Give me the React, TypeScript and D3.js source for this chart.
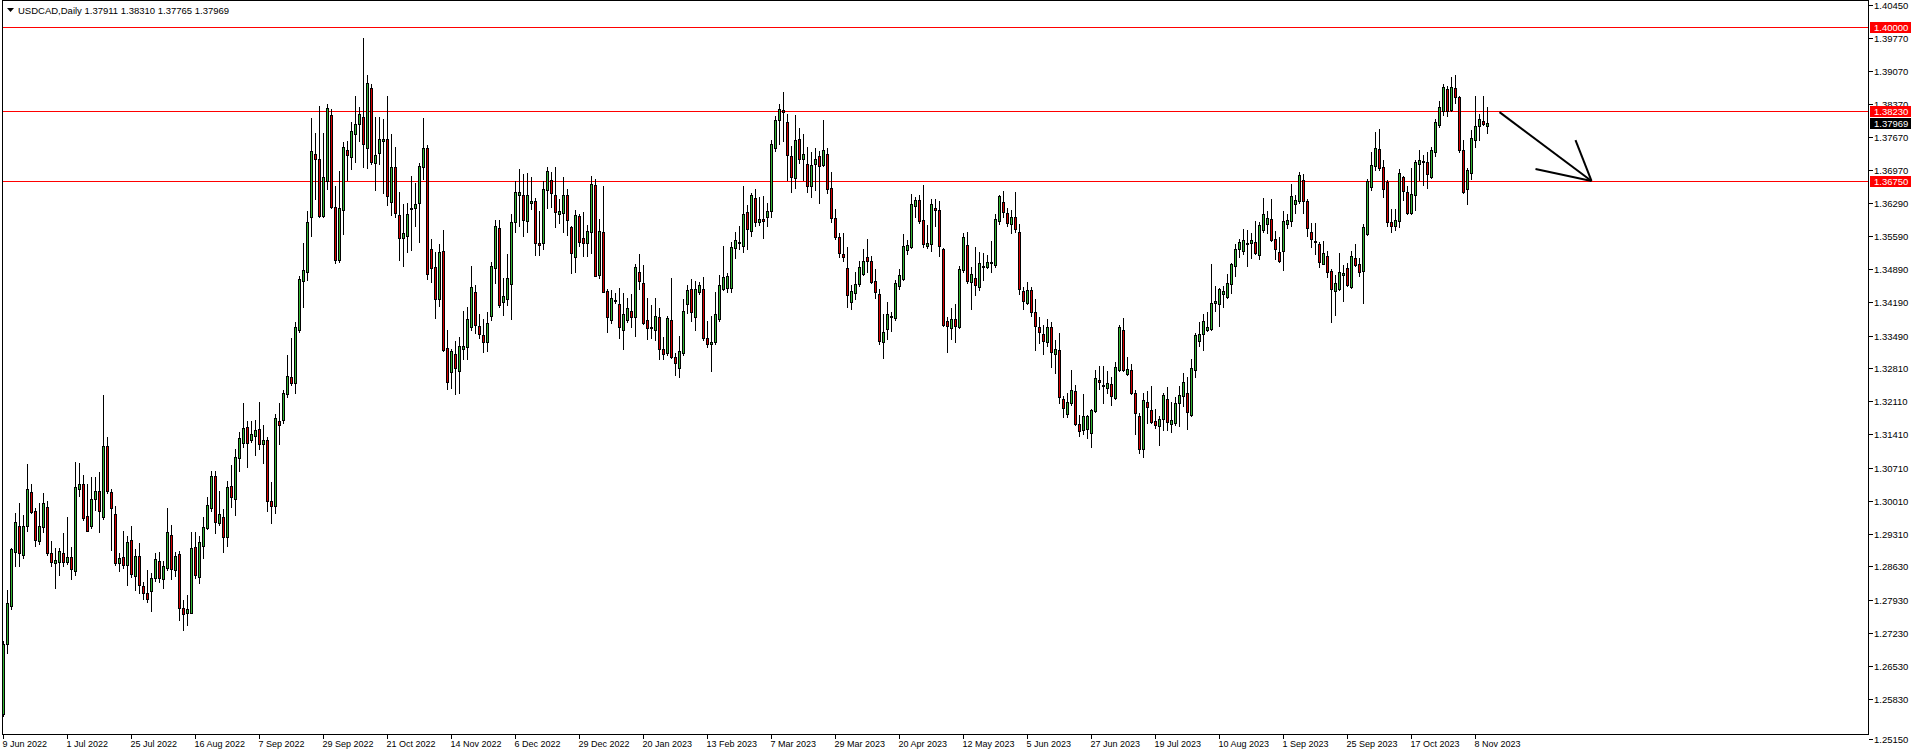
import React from 'react';
import * as d3 from 'd3';

const opens = [
1.2552,1.2699,1.2780,1.2893,1.2948,1.2886,1.2949,1.3019,1.2979,1.2917,
1.2945,1.2988,1.2891,1.2871,1.2873,1.2891,1.2873,1.2882,1.2854,1.3027,
1.3036,1.2969,1.2948,1.3004,1.3022,1.2967,1.3116,1.3020,1.2973,1.2870,
1.2882,1.2867,1.2918,1.2842,1.2884,1.2822,1.2807,1.2812,1.2839,1.2875,
1.2837,1.2860,1.2929,1.2855,1.2889,1.2776,1.2764,1.2764,1.2904,1.2840,
1.2907,1.2943,1.2985,1.3053,1.2955,1.2967,1.2924,1.3032,1.3004,1.3091,
1.3124,1.3156,1.3129,1.3137,1.3152,1.3120,1.3130,1.3000,1.2990,1.3170,
1.3172,1.3226,1.3261,1.3249,1.3360,1.3465,1.3484,1.3598,1.3731,1.3721,
1.3602,1.3674,1.3814,1.3620,1.3508,1.3613,1.3740,1.3726,1.3773,1.3794,
1.3809,1.3744,1.3870,1.3712,1.3733,1.3759,1.3763,1.3631,1.3704,1.3603,
1.3554,1.3558,1.3617,1.3617,1.3628,1.3705,1.3744,1.3531,1.3494,1.3427,
1.3528,1.3323,1.3272,1.3310,1.3274,1.3320,1.3325,1.3367,1.3440,1.3369,
1.3350,1.3335,1.3391,1.3491,1.3575,1.3420,1.3427,1.3457,1.3588,1.3646,
1.3645,1.3590,1.3628,1.3632,1.3544,1.3544,1.3655,1.3677,1.3645,1.3605,
1.3607,1.3645,1.3577,1.3514,1.3601,1.3554,1.3544,1.3568,1.3666,1.3476,
1.3567,1.3443,1.3382,1.3423,1.3415,1.3361,1.3383,1.3401,1.3388,1.3483,
1.3460,1.3382,1.3368,1.3361,1.3389,1.3320,1.3312,1.3382,1.3304,1.3281,
1.3312,1.3415,1.3448,1.3388,1.3441,1.3447,1.3345,1.3331,1.3335,1.3384,
1.3447,1.3450,1.3450,1.3533,1.3547,1.3539,1.3609,1.3570,1.3639,1.3589,
1.3594,1.3599,1.3611,1.3744,1.3803,1.3824,1.3799,1.3727,1.3681,1.3763,
1.3721,1.3710,1.3665,1.3711,1.3728,1.3709,1.3731,1.3660,1.3596,1.3556,
1.3521,1.3491,1.3421,1.3439,1.3458,1.3479,1.3514,1.3506,1.3464,1.3436,
1.3335,1.3363,1.3390,1.3387,1.3453,1.3468,1.3529,1.3535,1.3622,1.3634,
1.3592,1.3537,1.3543,1.3619,1.3613,1.3531,1.3379,1.3365,1.3384,1.3368,
1.3488,1.3540,1.3462,1.3470,1.3452,1.3496,1.3494,1.3502,1.3497,1.3590,
1.3630,1.3607,1.3584,1.3598,1.3567,1.3443,1.3417,1.3445,1.3398,1.3367,
1.3352,1.3336,1.3367,1.3311,1.3318,1.3215,1.3185,1.3207,1.3233,1.3162,
1.3150,1.3153,1.3144,1.3191,1.3256,1.3245,1.3238,1.3247,1.3218,1.3276,
1.3362,1.3268,1.3277,1.3229,1.3180,1.3110,1.3209,1.3192,1.3170,1.3158,
1.3173,1.3216,1.3164,1.3166,1.3207,1.3223,1.3229,1.3182,1.3276,1.3337,
1.3352,1.3360,1.3364,1.3417,1.3415,1.3436,1.3430,1.3457,1.3496,1.3531,
1.3528,1.3544,1.3544,1.3546,1.3519,1.3572,1.3584,1.3594,1.3553,1.3525,
1.3528,1.3584,1.3590,1.3626,1.3632,1.3677,1.3633,1.3568,1.3549,1.3542,
1.3501,1.3516,1.3486,1.3443,1.3447,1.3477,1.3491,1.3452,1.3512,1.3500,
1.3485,1.3564,1.3663,1.3707,1.3742,1.3704,1.3673,1.3588,1.3581,1.3590,
1.3683,1.3651,1.3608,1.3645,1.3710,1.3717,1.3714,1.3684,1.3735,1.3792,
1.3823,1.3868,1.3825,1.3870,1.3851,1.3740,1.3657,1.3691,1.3762,1.3790,
1.3801,1.37911,
];

const highs = [
1.2706,1.2813,1.2901,1.2975,1.2996,1.2971,1.3079,1.3037,1.2985,1.2996,
1.3018,1.3001,1.2916,1.2901,1.2901,1.2934,1.2967,1.2904,1.3083,1.3080,
1.3055,1.3037,1.3051,1.3051,1.3061,1.3224,1.3136,1.3026,1.2990,1.2892,
1.2937,1.2928,1.2948,1.2900,1.2912,1.2830,1.2856,1.2849,1.2891,1.2893,
1.2875,1.2986,1.2951,1.2894,1.2896,1.2792,1.2802,1.2936,1.2935,1.2926,
1.2967,1.3010,1.3063,1.3064,1.3021,1.2983,1.3043,1.3076,1.3110,1.3146,
1.3207,1.3170,1.3170,1.3172,1.3209,1.3160,1.3135,1.3040,1.3185,1.3207,
1.3235,1.3309,1.3344,1.3377,1.3474,1.3544,1.3612,1.3808,1.3775,1.3833,
1.3775,1.3837,1.3827,1.3664,1.3696,1.3756,1.3760,1.3800,1.3854,1.3830,
1.3976,1.3898,1.3879,1.3809,1.3809,1.3805,1.3854,1.3774,1.3747,1.3652,
1.3627,1.3629,1.3686,1.3670,1.3712,1.3808,1.3750,1.3553,1.3525,1.3542,
1.3572,1.3361,1.3320,1.3337,1.3346,1.3401,1.3410,1.3496,1.3455,1.3395,
1.3384,1.3399,1.3504,1.3593,1.3593,1.3470,1.3521,1.3606,1.3675,1.3700,
1.3690,1.3692,1.3683,1.3640,1.3612,1.3674,1.3704,1.3694,1.3704,1.3636,
1.3683,1.3658,1.3580,1.3613,1.3605,1.3610,1.3582,1.3686,1.3679,1.3595,
1.3665,1.3447,1.3446,1.3439,1.3449,1.3439,1.3428,1.3437,1.3500,1.3521,
1.3498,1.3428,1.3414,1.3429,1.3408,1.3347,1.3391,1.3470,1.3312,1.3349,
1.3427,1.3455,1.3469,1.3464,1.3462,1.3472,1.3380,1.3391,1.3442,1.3477,
1.3538,1.3481,1.3547,1.3568,1.3580,1.3665,1.3625,1.3649,1.3657,1.3642,
1.3643,1.3628,1.3762,1.3812,1.3837,1.3862,1.3816,1.3749,1.3814,1.3786,
1.3774,1.3746,1.3735,1.3744,1.3739,1.3804,1.3744,1.3693,1.3616,1.3565,
1.3566,1.3535,1.3455,1.3483,1.3507,1.3531,1.3553,1.3516,1.3489,1.3447,
1.3395,1.3419,1.3398,1.3467,1.3490,1.3563,1.3551,1.3648,1.3642,1.3645,
1.3667,1.3582,1.3636,1.3636,1.3632,1.3533,1.3389,1.3407,1.3416,1.3495,
1.3565,1.3567,1.3493,1.3535,1.3526,1.3523,1.3519,1.3549,1.3606,1.3646,
1.3654,1.3618,1.3614,1.3651,1.3584,1.3451,1.3462,1.3451,1.3426,1.3388,
1.3372,1.3384,1.3377,1.3340,1.3355,1.3222,1.3229,1.3276,1.3245,1.3181,
1.3226,1.3182,1.3195,1.3277,1.3285,1.3285,1.3274,1.3263,1.3294,1.3372,
1.3386,1.3304,1.3289,1.3235,1.3186,1.3228,1.3233,1.3244,1.3195,1.3180,
1.3229,1.3240,1.3209,1.3219,1.3243,1.3271,1.3261,1.3299,1.3354,1.3377,
1.3394,1.3398,1.3501,1.3454,1.3450,1.3454,1.3478,1.3503,1.3543,1.3552,
1.3573,1.3572,1.3565,1.3590,1.3588,1.3639,1.3612,1.3637,1.3570,1.3557,
1.3612,1.3606,1.3668,1.3646,1.3693,1.3690,1.3637,1.3586,1.3587,1.3547,
1.3549,1.3527,1.3489,1.3477,1.3524,1.3498,1.3503,1.3528,1.3543,1.3512,
1.3584,1.3679,1.3735,1.3779,1.3784,1.3719,1.3676,1.3616,1.3615,1.3700,
1.3686,1.3665,1.3703,1.3719,1.3740,1.3730,1.3735,1.3746,1.3805,1.3844,
1.3879,1.3874,1.3895,1.3898,1.3854,1.3762,1.3702,1.3782,1.3854,1.3816,
1.3854,1.38310,
];

const lows = [
1.2547,1.2681,1.2774,1.2864,1.2863,1.2880,1.2938,1.2976,1.2905,1.2911,
1.2936,1.2887,1.2864,1.2818,1.2844,1.2863,1.2868,1.2837,1.2844,1.3011,
1.2961,1.2937,1.2943,1.2982,1.2936,1.2963,1.3017,1.2898,1.2867,1.2854,
1.2860,1.2823,1.2841,1.2813,1.2808,1.2795,1.2788,1.2768,1.2833,1.2831,
1.2817,1.2856,1.2837,1.2842,1.2751,1.2729,1.2739,1.2764,1.2839,1.2828,
1.2880,1.2941,1.2979,1.2933,1.2950,1.2894,1.2905,1.2989,1.2972,1.3063,
1.3115,1.3073,1.3126,1.3097,1.3110,1.3080,1.2980,1.2955,1.2975,1.3120,
1.3165,1.3220,1.3245,1.3228,1.3356,1.3409,1.3467,1.3558,1.3638,1.3600,
1.3598,1.3658,1.3619,1.3502,1.3504,1.3563,1.3677,1.3700,1.3714,1.3759,
1.3705,1.3703,1.3711,1.3655,1.3711,1.3650,1.3624,1.3604,1.3600,1.3508,
1.3495,1.3525,1.3530,1.3580,1.3547,1.3680,1.3468,1.3463,1.3387,1.3412,
1.3316,1.3236,1.3238,1.3226,1.3228,1.3299,1.3299,1.3362,1.3354,1.3344,
1.3315,1.3316,1.3382,1.3460,1.3410,1.3393,1.3414,1.3384,1.3568,1.3580,
1.3560,1.3568,1.3616,1.3519,1.3518,1.3532,1.3617,1.3621,1.3579,1.3587,
1.3568,1.3562,1.3482,1.3484,1.3537,1.3516,1.3516,1.3523,1.3474,1.3470,
1.3440,1.3356,1.3375,1.3417,1.3345,1.3320,1.3377,1.3368,1.3349,1.3447,
1.3373,1.3342,1.3345,1.3339,1.3300,1.3300,1.3308,1.3303,1.3266,1.3261,
1.3309,1.3396,1.3380,1.3361,1.3437,1.3340,1.3325,1.3274,1.3332,1.3380,
1.3445,1.3440,1.3440,1.3513,1.3532,1.3526,1.3532,1.3559,1.3581,1.3582,
1.3554,1.3581,1.3599,1.3739,1.3752,1.3760,1.3676,1.3651,1.3660,1.3712,
1.3676,1.3651,1.3642,1.3655,1.3629,1.3707,1.3649,1.3589,1.3553,1.3514,
1.3506,1.3410,1.3405,1.3426,1.3453,1.3476,1.3483,1.3461,1.3428,1.3332,
1.3302,1.3342,1.3358,1.3382,1.3448,1.3466,1.3521,1.3533,1.3599,1.3587,
1.3535,1.3534,1.3528,1.3581,1.3517,1.3370,1.3314,1.3342,1.3335,1.3365,
1.3484,1.3460,1.3405,1.3435,1.3446,1.3467,1.3491,1.3483,1.3493,1.3584,
1.3600,1.3580,1.3566,1.3567,1.3437,1.3405,1.3415,1.3391,1.3319,1.3333,
1.3311,1.3328,1.3284,1.3271,1.3208,1.3177,1.3177,1.3203,1.3161,1.3138,
1.3142,1.3133,1.3115,1.3189,1.3237,1.3207,1.3228,1.3202,1.3216,1.3274,
1.3275,1.3266,1.3227,1.3142,1.3101,1.3093,1.3166,1.3166,1.3154,1.3118,
1.3151,1.3151,1.3146,1.3160,1.3158,1.3200,1.3152,1.3180,1.3261,1.3328,
1.3318,1.3358,1.3362,1.3401,1.3370,1.3410,1.3428,1.3438,1.3474,1.3514,
1.3522,1.3495,1.3512,1.3521,1.3510,1.3568,1.3565,1.3548,1.3510,1.3504,
1.3488,1.3575,1.3581,1.3607,1.3628,1.3607,1.3559,1.3535,1.3521,1.3493,
1.3499,1.3472,1.3377,1.3393,1.3445,1.3423,1.3453,1.3450,1.3495,1.3474,
1.3417,1.3562,1.3655,1.3698,1.3698,1.3642,1.3580,1.3568,1.3572,1.3577,
1.3635,1.3606,1.3605,1.3614,1.3678,1.3666,1.3661,1.3682,1.3728,1.3788,
1.3813,1.3812,1.3823,1.3840,1.3737,1.3649,1.3627,1.3679,1.3746,1.3762,
1.3792,1.37765,
];

const closes = [
1.2699,1.2785,1.2900,1.2956,1.2892,1.2948,1.3026,1.2978,1.2918,1.2948,
1.2996,1.2892,1.2873,1.2876,1.2895,1.2873,1.2883,1.2858,1.3030,1.3037,
1.2966,1.2937,1.3005,1.3022,1.2979,1.3116,1.3021,1.2985,1.2871,1.2880,
1.2865,1.2915,1.2846,1.2884,1.2823,1.2807,1.2795,1.2838,1.2878,1.2839,
1.2863,1.2935,1.2857,1.2884,1.2776,1.2762,1.2773,1.2901,1.2844,1.2914,
1.2946,1.2992,1.3053,1.2957,1.2974,1.2924,1.3030,1.3010,1.3093,1.3133,
1.3154,1.3124,1.3142,1.3150,1.3120,1.3130,1.3000,1.2990,1.3175,1.3160,
1.3228,1.3264,1.3250,1.3367,1.3468,1.3487,1.3588,1.3738,1.3722,1.3602,
1.3683,1.3828,1.3621,1.3508,1.3618,1.3746,1.3730,1.3780,1.3794,1.3815,
1.3752,1.3881,1.3714,1.3730,1.3763,1.3763,1.3644,1.3704,1.3607,1.3554,
1.3565,1.3605,1.3615,1.3627,1.3707,1.3744,1.3478,1.3491,1.3426,1.3525,
1.3318,1.3251,1.3316,1.3280,1.3327,1.3327,1.3384,1.3452,1.3371,1.3353,
1.3336,1.3375,1.3495,1.3580,1.3414,1.3432,1.3470,1.3588,1.3651,1.3651,
1.3592,1.3645,1.3632,1.3544,1.3541,1.3657,1.3695,1.3649,1.3610,1.3611,
1.3645,1.3592,1.3523,1.3603,1.3547,1.3544,1.3569,1.3668,1.3475,1.3569,
1.3442,1.3389,1.3428,1.3425,1.3368,1.3394,1.3407,1.3389,1.3494,1.3465,
1.3375,1.3366,1.3366,1.3391,1.3321,1.3310,1.3387,1.3305,1.3291,1.3316,
1.3401,1.3445,1.3398,1.3447,1.3455,1.3344,1.3331,1.3335,1.3394,1.3455,
1.3472,1.3474,1.3535,1.3550,1.3545,1.3605,1.3573,1.3646,1.3589,1.3594,
1.3591,1.3612,1.3752,1.3804,1.3826,1.3820,1.3729,1.3683,1.3761,1.3721,
1.3731,1.3664,1.3708,1.3721,1.3707,1.3740,1.3659,1.3596,1.3556,1.3523,
1.3514,1.3434,1.3443,1.3458,1.3493,1.3506,1.3507,1.3463,1.3441,1.3338,
1.3356,1.3394,1.3388,1.3460,1.3476,1.3538,1.3540,1.3626,1.3634,1.3590,
1.3542,1.3544,1.3626,1.3613,1.3537,1.3372,1.3370,1.3384,1.3370,1.3490,
1.3556,1.3465,1.3479,1.3455,1.3502,1.3494,1.3504,1.3505,1.3594,1.3644,
1.3610,1.3587,1.3598,1.3573,1.3447,1.3423,1.3445,1.3399,1.3370,1.3356,
1.3337,1.3367,1.3314,1.3322,1.3219,1.3196,1.3209,1.3235,1.3164,1.3149,
1.3180,1.3180,1.3192,1.3259,1.3251,1.3242,1.3249,1.3221,1.3283,1.3367,
1.3277,1.3278,1.3229,1.3187,1.3110,1.3213,1.3198,1.3168,1.3161,1.3173,
1.3224,1.3168,1.3171,1.3207,1.3224,1.3251,1.3188,1.3281,1.3351,1.3353,
1.3379,1.3368,1.3417,1.3422,1.3447,1.3443,1.3459,1.3500,1.3531,1.3546,
1.3550,1.3543,1.3550,1.3524,1.3582,1.3605,1.3596,1.3550,1.3531,1.3507,
1.3590,1.3593,1.3644,1.3635,1.3688,1.3632,1.3575,1.3552,1.3547,1.3505,
1.3523,1.3484,1.3447,1.3461,1.3483,1.3481,1.3455,1.3516,1.3497,1.3484,
1.3578,1.3675,1.3708,1.3744,1.3703,1.3658,1.3588,1.3581,1.3593,1.3691,
1.3653,1.3608,1.3648,1.3714,1.3719,1.3714,1.3689,1.3740,1.3799,1.3830,
1.3872,1.3823,1.3872,1.3851,1.3740,1.3652,1.3698,1.3765,1.3790,1.3805,
1.3794,1.37969,
];

const dateLabels = [
  '9 Jun 2022', '1 Jul 2022', '25 Jul 2022', '16 Aug 2022', '7 Sep 2022', '29 Sep 2022',
  '21 Oct 2022', '14 Nov 2022', '6 Dec 2022', '29 Dec 2022', '20 Jan 2023', '13 Feb 2023',
  '7 Mar 2023', '29 Mar 2023', '20 Apr 2023', '12 May 2023', '5 Jun 2023', '27 Jun 2023',
  '19 Jul 2023', '10 Aug 2023', '1 Sep 2023', '25 Sep 2023', '17 Oct 2023', '8 Nov 2023',
];
const barsPerDateLabel = 16;

const priceTicks = [
  1.40450, 1.39770, 1.39070, 1.38370, 1.37670, 1.36970, 1.36290, 1.35590, 1.34890,
  1.34190, 1.33490, 1.32810, 1.32110, 1.31410, 1.30710, 1.30010, 1.29310, 1.28630,
  1.27930, 1.27230, 1.26530, 1.25830, 1.25150,
];

const levelLines = [1.40000, 1.38230, 1.36750];
const lastPrice = 1.37969;
const symbolTitle = 'USDCAD,Daily';
const lastBarValues = [1.37911, 1.38310, 1.37765, 1.37969];

// trend arrow drawn on the chart (bar index, price)
const arrowShaft = [[374, 1.3820], [397, 1.3675]];
const arrowHeadA = [[383, 1.3700], [397, 1.3675]];
const arrowHeadB = [[393, 1.3761], [397, 1.3675]];

const FONT = "'Liberation Sans', Arial, sans-serif";
const BULL = '#32b432';
const BEAR = '#d40000';
const LEVEL = '#ff0000';

export default function App() {
  const W = 1914;
  const H = 755;
  const frameL = 2.5;
  const frameR = 1868.5;
  const frameT = 0.5;
  const frameB = 734.5;
  const n = opens.length;

  const x = d3.scaleLinear().domain([0, 1]).range([3.5, 7.5]);
  const y = d3.scaleLinear().domain([1.2515, 1.4045]).range([731.6, 5.3]);
  const sy = (v: number) => Math.round(y(v));

  const candles = d3.range(n).map((i) => {
    const o = opens[i];
    const c = closes[i];
    const h = Math.max(highs[i], o, c);
    const l = Math.min(lows[i], o, c);
    const cx = x(i);
    const top = sy(Math.max(o, c));
    const bot = sy(Math.min(o, c));
    const up = c >= o;
    return (
      <g key={i}>
        <line x1={cx} x2={cx} y1={sy(h)} y2={sy(l) + 1} stroke="#000" strokeWidth={1} />
        {bot - top >= 1 ? (
          <rect x={cx - 1} y={top + 0.5} width={2} height={bot - top} fill={up ? BULL : BEAR} stroke="#000" strokeWidth={1} />
        ) : (
          <line x1={cx - 1.5} x2={cx + 1.5} y1={top + 0.5} y2={top + 0.5} stroke="#000" strokeWidth={1} />
        )}
      </g>
    );
  });

  const line = d3.line<number[]>().x((d) => x(d[0])).y((d) => y(d[1]));

  const minTick = d3.min(priceTicks) as number;

  return (
    <svg
      width={W}
      height={H}
      style={{ position: 'absolute', left: 0, top: 0, display: 'block', background: '#fff' }}
      fontFamily={FONT}
    >
      <rect x={0} y={0} width={W} height={H} fill="#fff" />
      <defs>
        <clipPath id="plotClip">
          <rect x={frameL} y={frameT} width={frameR - frameL} height={frameB - frameT} />
        </clipPath>
      </defs>

      <g clipPath="url(#plotClip)" shapeRendering="crispEdges">
        {levelLines.map((v) => (
          <line key={v} x1={frameL} x2={frameR} y1={sy(v) + 0.5} y2={sy(v) + 0.5} stroke={LEVEL} strokeWidth={1} />
        ))}
        {candles}
      </g>

      <g clipPath="url(#plotClip)" fill="none" stroke="#000" strokeWidth={2} strokeLinecap="butt">
        <path d={line(arrowShaft as number[][]) || ''} />
        <path d={line(arrowHeadA as number[][]) || ''} />
        <path d={line(arrowHeadB as number[][]) || ''} />
      </g>

      {/* frame */}
      <g shapeRendering="crispEdges" stroke="#000" strokeWidth={1} fill="none">
        <rect x={frameL} y={frameT} width={frameR - frameL} height={frameB - frameT} />
      </g>

      {/* header */}
      <path d="M7,8 L14,8 L10.5,12 Z" fill="#000" />
      <text x={18} y={14} fontSize={9.5} fill="#000">
        {symbolTitle + '  ' + lastBarValues.map((v) => v.toFixed(5)).join(' ')}
      </text>

      {/* price axis */}
      <g shapeRendering="crispEdges">
        {priceTicks.map((v) => {
          const ty = v === minTick ? frameB + 4.5 : sy(v) + 0.5;
          return (
            <g key={v}>
              <line x1={frameR} x2={frameR + 4} y1={ty} y2={ty} stroke="#000" strokeWidth={1} />
              <text x={frameR + 5.5} y={ty + 3.5} fontSize={9.5} fill="#000">{v.toFixed(5)}</text>
            </g>
          );
        })}
        {levelLines.map((v) => (
          <g key={'l' + v}>
            <rect x={frameR + 1.5} y={sy(v) - 5} width={41} height={11} fill={LEVEL} />
            <text x={frameR + 5.5} y={sy(v) + 4} fontSize={9.5} fill="#fff">{v.toFixed(5)}</text>
          </g>
        ))}
        <rect x={frameR + 1.5} y={sy(lastPrice) - 5} width={41} height={11} fill="#000" />
        <text x={frameR + 5.5} y={sy(lastPrice) + 4} fontSize={9.5} fill="#fff">{lastPrice.toFixed(5)}</text>
      </g>

      {/* time axis */}
      <g shapeRendering="crispEdges">
        {dateLabels.map((lab, k) => {
          const tx = x(k * barsPerDateLabel);
          return (
            <g key={lab}>
              <line x1={tx} x2={tx} y1={frameB} y2={frameB + 4} stroke="#000" strokeWidth={1} />
              <text x={tx - 1} y={747} fontSize={9} fill="#000">{lab}</text>
            </g>
          );
        })}
      </g>
    </svg>
  );
}
